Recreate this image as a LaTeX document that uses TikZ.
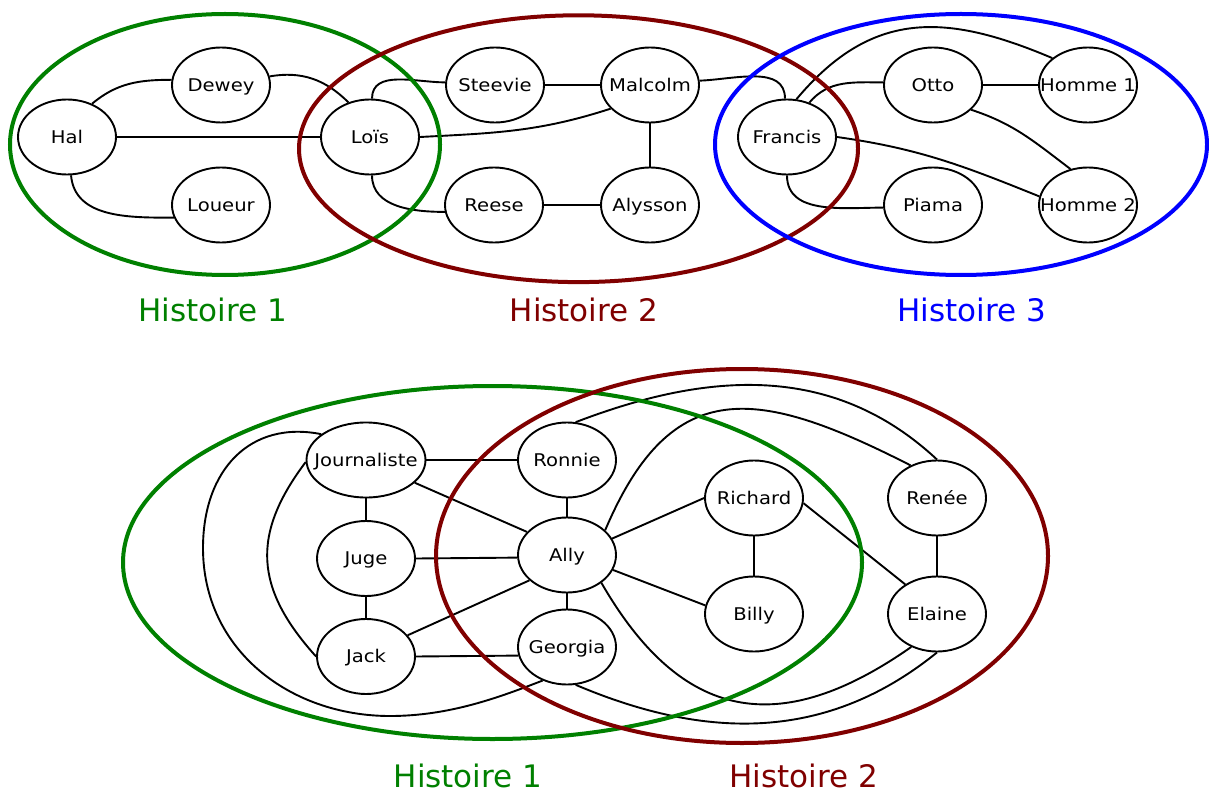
\documentclass[tikz,border=0pt]{standalone}
\usepackage{fontspec}
\setmainfont{DejaVu Sans}
\newfontfamily\personfont[FakeStretch=1.12]{DejaVu Sans}
\usetikzlibrary{shapes.geometric}
\definecolor{storygreen}{RGB}{0,128,0}
\definecolor{storyred}{RGB}{128,0,0}
\definecolor{storyblue}{RGB}{0,0,255}
% names are set in a zero-width box so that the ellipse keeps its own size
\newcommand{\pname}[1]{\makebox[0pt][c]{#1}}
\begin{document}
\begin{tikzpicture}[x=1pt,y=1pt,
  person/.style={ellipse, draw, line width=1.9pt, inner sep=0pt,
    minimum width=98pt, minimum height=75pt,
    text height=12.7pt, text depth=0pt,
    font=\personfont\fontsize{17.5}{20}\selectfont},
  wideperson/.style={person, minimum width=119pt},
  tie/.style={line width=1.9pt},
  story/.style={line width=4pt},
  storylabel/.style={anchor=base, inner sep=0pt, font=\fontsize{31}{36}\selectfont}]
\useasboundingbox (0,0) rectangle (1209,-794);

% ---------------- first series ----------------
\node[person] (hal)     at (67,-137)   {\pname{Hal}};
\node[person] (dewey)   at (221,-85)   {\pname{Dewey}};
\node[person] (loueur)  at (221,-205)  {\pname{Loueur}};
\node[person] (lois)    at (370,-137)  {\pname{Loïs}};
\node[person] (steevie) at (495,-85)   {\pname{Steevie}};
\node[person] (malcolm) at (650,-85)   {\pname{Malcolm}};
\node[person] (reese)   at (494,-205)  {\pname{Reese}};
\node[person] (alysson) at (650,-205)  {\pname{Alysson}};
\node[person] (francis) at (787,-137)  {\pname{Francis}};
\node[person] (otto)    at (933,-85)   {\pname{Otto}};
\node[person] (homme1)  at (1088,-85)  {\pname{Homme 1}};
\node[person] (piama)   at (933,-205)  {\pname{Piama}};
\node[person] (homme2)  at (1088,-205) {\pname{Homme 2}};

\draw[tie] (hal.53) to[out=40,in=180] (dewey.174);
\draw[tie] (dewey.10) to[out=10,in=135] (lois.122);
\draw[tie] (hal.east) -- (lois.west);
\draw[tie] (hal.276) to[out=-85,in=180] (loueur.195);
\draw[tie] (lois.87) to[out=90,in=180] (steevie.177);
\draw[tie] (lois.273) to[out=-90,in=180] (reese.188);
\draw[tie] (lois.east) to[out=3,in=198] (malcolm.211);
\draw[tie] (steevie.east) -- (malcolm.west);
\draw[tie] (malcolm.south) -- (alysson.north);
\draw[tie] (reese.east) -- (alysson.west);
\draw[tie] (malcolm.5) to[out=2,in=90] (francis.93);
\draw[tie] (francis.76) to[out=50,in=157,looseness=1.15] (homme1.143);
\draw[tie] (francis.57) to[out=50,in=180] (otto.177);
\draw[tie] (otto.east) -- (homme1.west);
\draw[tie] (otto.327) to[out=-18,in=143] (homme2.116);
\draw[tie] (francis.east) to[out=-8,in=158] (homme2.170);
\draw[tie] (francis.south) to[out=-90,in=180] (piama.183);

\draw[story, storygreen] (225,-144.5) ellipse [x radius=215, y radius=130.5];
\draw[story, storyred]   (578.5,-148.7) ellipse [x radius=279.5, y radius=133.4];
\draw[story, storyblue]  (961,-144.5) ellipse [x radius=246, y radius=130.5];

\node[storylabel, text=storygreen] (s1) at (212.5,-321.7) {Histoire 1};
\node[storylabel, text=storyred]   (s2) at (584,-321.7)   {Histoire 2};
\node[storylabel, text=storyblue]  (s3) at (971.5,-321.7) {Histoire 3};

% ---------------- second series ----------------
\node[wideperson] (journaliste) at (366,-460) {\pname{Journaliste}};
\node[person] (ronnie)  at (567,-460)   {\pname{Ronnie}};
\node[person] (juge)    at (366,-558.5) {\pname{Juge}};
\node[person] (ally)    at (567,-555)   {\pname{Ally}};
\node[person] (jack)    at (366,-656.5) {\pname{Jack}};
\node[person] (georgia) at (567,-647)   {\pname{Georgia}};
\node[person] (richard) at (754,-498)   {\pname{Richard}};
\node[person] (billy)   at (754,-614)   {\pname{Billy}};
\node[person] (renee)   at (937,-498)   {\pname{Renée}};
\node[person] (elaine)  at (937,-614)   {\pname{Elaine}};

\draw[tie] (journaliste.east) -- (ronnie.west);
\draw[tie] (journaliste.south) -- (juge.north);
\draw[tie] (juge.south) -- (jack.north);
\draw[tie] (journaliste.-25) -- (ally.150);
\draw[tie] (juge.east) -- (ally.183);
\draw[tie] (jack.27) -- (ally.214);
\draw[tie] (jack.east) -- (georgia.190);
\draw[tie] (ronnie.south) -- (ally.north);
\draw[tie] (ally.south) -- (georgia.north);
\draw[tie] (ally.20) -- (richard.west);
\draw[tie] (ally.-18) -- (billy.170);
\draw[tie] (richard.south) -- (billy.north);
\draw[tie] (richard.-6) -- (elaine.137);
\draw[tie] (renee.south) -- (elaine.north);
\draw[tie] (journaliste.182) to[out=233,in=132,looseness=1.2] (jack.west);
\draw[tie] (journaliste.150) .. controls (250,-420) and (203,-470) .. (203,-548)
  .. controls (203,-650) and (290,-716) .. (390,-716)
  .. controls (450,-716) and (500,-697) .. (georgia.234);
\draw[tie] (ronnie.77) to[out=21,in=137] (renee.north);
\draw[tie] (ally.33) to[out=67,in=153,looseness=1.4] (renee.129);
\draw[tie] (ally.321) to[out=-60,in=215,looseness=1.3] (elaine.232);
\draw[tie] (georgia.283) to[out=-23,in=219] (elaine.south);

\draw[story, storygreen] (492.5,-562.5) ellipse [x radius=369.5, y radius=176.5];
\draw[story, storyred]   (742,-556) ellipse [x radius=306, y radius=187];

\node[storylabel, text=storygreen] (b1) at (468,-787)   {Histoire 1};
\node[storylabel, text=storyred]   (b2) at (803.5,-787) {Histoire 2};
\end{tikzpicture}
\end{document}
